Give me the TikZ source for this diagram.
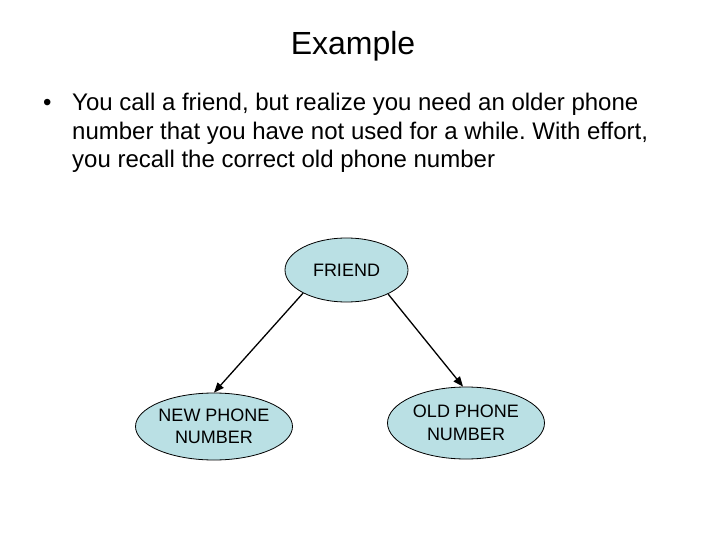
\documentclass[tikz,border=0pt]{standalone}
\usepackage{fontspec}
\setmainfont{Liberation Sans}
\usetikzlibrary{shapes.geometric,arrows.meta}
\definecolor{nodefill}{RGB}{186,224,228}
\frenchspacing
\tikzset{
  bubble/.style={ellipse, draw=black, line width=0.8pt, fill=nodefill, inner sep=0pt,
    align=center, font=\fontsize{18}{22.5}\selectfont},
  link/.style={line width=1.3pt, -{Triangle[length=10pt,width=8pt]}},
  bodytext/.style={anchor=base west, inner sep=0pt, font=\fontsize{24}{28}\selectfont}
}
\begin{document}
\begin{tikzpicture}[x=1pt,y=-1pt]
\useasboundingbox (0,0) rectangle (720,540);
\node[anchor=base, inner sep=0pt, font=\fontsize{32}{38}\selectfont] (title) at (353,55) {Example};
\node[bodytext] (bullet) at (43,111) {•};
\node[bodytext] (l1) at (72,111) {You call a friend, but realize you need an older phone};
\node[bodytext] (l2) at (72,140) {number that you have not used for a while. With effort,};
\node[bodytext] (l3) at (72,168) {you recall the correct old phone number};
\node[bubble, minimum width=123pt, minimum height=64pt] (friend) at (346.5,270) {FRIEND};
\node[bubble, minimum width=153pt, minimum height=67pt] (new) at (214,426.5) {NEW PHONE\\NUMBER};
\node[bubble, minimum width=157pt, minimum height=72pt] (old) at (466,423) {OLD PHONE\\NUMBER};
\draw[link] (friend.208) -- (new.north);
\draw[link] (friend.330) -- ([xshift=-3pt]old.north);
\end{tikzpicture}
\end{document}
